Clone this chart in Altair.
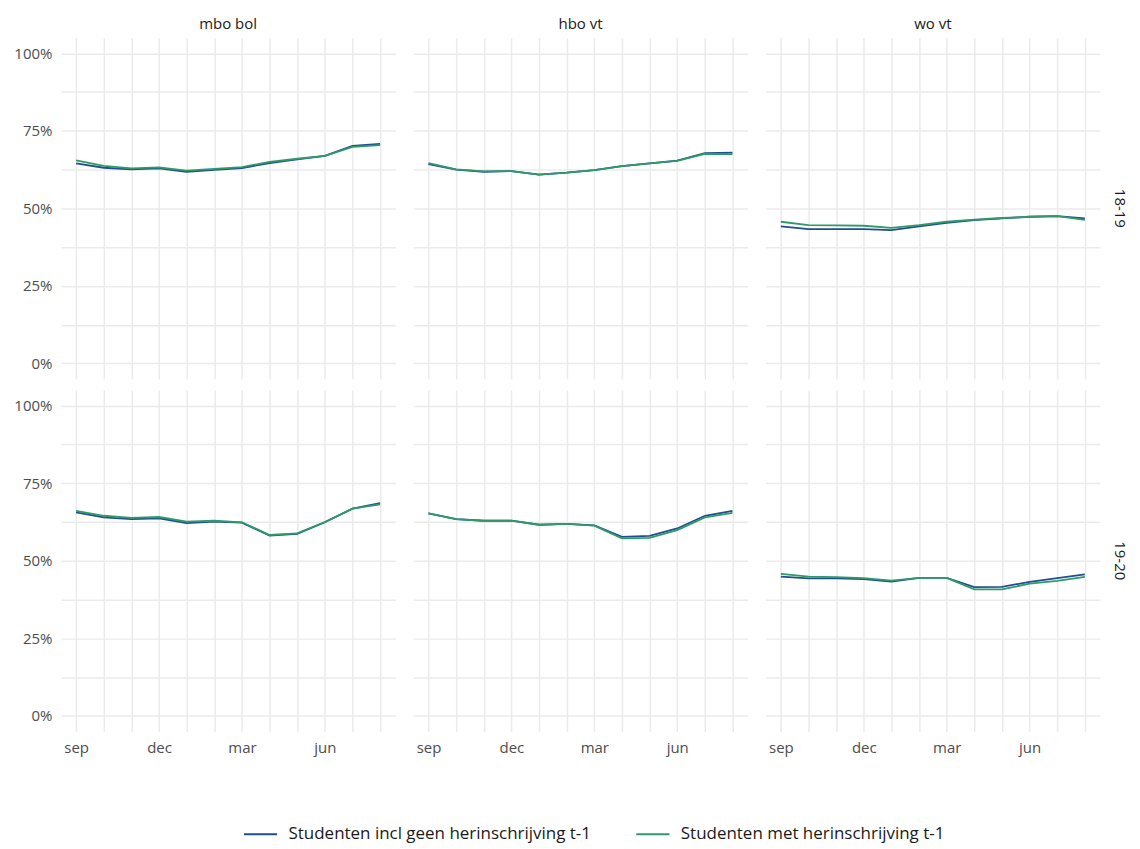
import altair as alt
import pandas as pd

months = ["sep", "okt", "nov", "dec", "jan", "feb", "mrt", "apr", "mei", "jun", "jul", "aug"]
month_labels = ["sep", "", "", "dec", "", "", "mar", "", "", "jun", "", ""]
sectors = ["mbo bol", "hbo vt", "wo vt"]
years = ["18-19", "19-20"]
series = ["Studenten incl geen herinschrijving t-1", "Studenten met herinschrijving t-1"]

# 18-19
mbo_1819_incl = [64.5, 63.1, 62.6, 62.9, 61.8, 62.4, 63.0, 64.6, 65.8, 66.9, 70.1, 70.8]
mbo_1819_met = [65.5, 63.7, 62.9, 63.2, 62.2, 62.7, 63.3, 65.0, 66.0, 66.9, 69.8, 70.4]
hbo_1819_incl = [64.3, 62.5, 61.8, 62.0, 60.9, 61.5, 62.3, 63.6, 64.5, 65.4, 67.8, 68.0]
hbo_1819_met = [64.6, 62.6, 61.9, 62.0, 60.9, 61.5, 62.3, 63.6, 64.5, 65.3, 67.6, 67.5]
wo_1819_incl = [44.2, 43.3, 43.3, 43.3, 43.0, 44.2, 45.3, 46.2, 46.8, 47.3, 47.5, 46.8]
wo_1819_met = [45.7, 44.6, 44.5, 44.4, 43.7, 44.6, 45.7, 46.4, 46.9, 47.3, 47.5, 46.3]
# 19-20
mbo_1920_incl = [65.6, 64.0, 63.4, 63.7, 62.1, 62.6, 62.3, 58.1, 58.7, 62.4, 66.8, 68.6]
mbo_1920_met = [66.1, 64.5, 63.8, 64.1, 62.6, 62.9, 62.4, 58.3, 58.8, 62.5, 66.8, 68.2]
hbo_1920_incl = [65.3, 63.4, 62.9, 62.9, 61.6, 61.9, 61.4, 57.7, 58.0, 60.4, 64.5, 66.1]
hbo_1920_met = [65.3, 63.4, 62.9, 62.9, 61.6, 61.9, 61.3, 57.2, 57.4, 59.9, 64.0, 65.4]
wo_1920_incl = [44.9, 44.3, 44.3, 44.1, 43.3, 44.5, 44.5, 41.5, 41.6, 43.2, 44.4, 45.6]
wo_1920_met = [45.8, 44.9, 44.7, 44.4, 43.6, 44.5, 44.5, 40.8, 40.8, 42.6, 43.5, 44.8]

table = {
    ("mbo bol", "18-19"): (mbo_1819_incl, mbo_1819_met),
    ("hbo vt", "18-19"): (hbo_1819_incl, hbo_1819_met),
    ("wo vt", "18-19"): (wo_1819_incl, wo_1819_met),
    ("mbo bol", "19-20"): (mbo_1920_incl, mbo_1920_met),
    ("hbo vt", "19-20"): (hbo_1920_incl, hbo_1920_met),
    ("wo vt", "19-20"): (wo_1920_incl, wo_1920_met),
}

rows = []
for (sector, year), (incl, met) in table.items():
    for s, vals in zip(series, (incl, met)):
        for i, v in enumerate(vals):
            rows.append({"sector": sector, "jaar": year, "serie": s, "m": i, "maand": months[i], "v": v})
df = pd.DataFrame(rows)

label_js = "[" + ",".join("'" + l + "'" for l in month_labels) + "]"

FONT = "Open Sans"
BLUE = "#1d4f91"
GREEN = "#2f9a68"

line = alt.Chart(df).mark_line(strokeWidth=1.8).encode(
    x=alt.X("m:Q",
            scale=alt.Scale(domain=[-0.55, 11.55], nice=False, zero=False),
            axis=alt.Axis(values=list(range(12)), labelExpr=label_js + "[datum.value]",
                          title=None, labelOverlap=False, labelPadding=9)),
    y=alt.Y("v:Q",
            scale=alt.Scale(domain=[-5, 105], nice=False, zero=False),
            axis=alt.Axis(values=[0, 12.5, 25, 37.5, 50, 62.5, 75, 87.5, 100],
                          labelExpr="datum.value % 25 == 0 ? datum.value + '%' : ''",
                          title=None, labelOverlap=False, labelPadding=9)),
    color=alt.Color("serie:N", scale=alt.Scale(domain=series, range=[BLUE, GREEN]),
                    legend=alt.Legend(orient="none", legendX=182, legendY=780,
                                      title=None, direction="horizontal",
                                      symbolType="stroke", symbolSize=1100, symbolStrokeWidth=2,
                                      labelFontSize=17, labelFont=FONT, labelColor="#1a1a1a",
                                      columnPadding=40, labelOffset=10, labelLimit=500)),
    detail="serie:N",
)

chart = line.properties(width=335, height=342).facet(
    column=alt.Column("sector:N", sort=sectors, title=None,
                      header=alt.Header(labelFontSize=15, labelFont=FONT, labelColor="#1a1a1a",
                                        labelPadding=6)),
    row=alt.Row("jaar:N", sort=years, title=None,
                header=alt.Header(labelFontSize=15, labelFont=FONT, labelColor="#1a1a1a",
                                  labelOrient="right", labelAngle=90, labelPadding=12)),
    spacing={"row": 11, "column": 18},
).configure_view(stroke=None).configure_axis(
    domain=False, ticks=False, grid=True, gridColor="#ebebeb", gridWidth=1.5,
    labelFont=FONT, labelFontSize=15, labelColor="#4d4d4d",
).properties(padding={"left": 5, "top": 8, "right": 5, "bottom": 5}, background="white")

chart.save("out.html", embed_options={"renderer": "svg", "actions": False})
